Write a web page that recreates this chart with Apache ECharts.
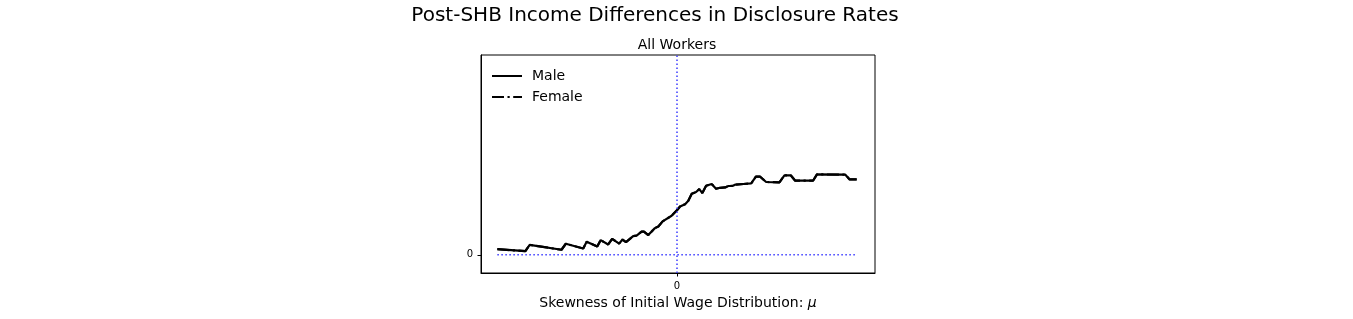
<!DOCTYPE html>
<html>
<head>
<meta charset="utf-8">
<script src="https://cdn.jsdelivr.net/npm/echarts@6/dist/echarts.min.js"></script>
<style>
html,body{margin:0;padding:0;background:#fff;}
#chart{width:1353px;height:319px;}
</style>
</head>
<body>
<div id="chart"></div>
<script>
// Skewness of initial wage distribution (mu), normalised so data spans -1..1
const muValues = [-1.00,-0.844,-0.820,-0.643,-0.619,-0.522,-0.503,-0.444,-0.425,-0.383,-0.361,-0.322,-0.303,-0.284,-0.244,-0.225,-0.197,-0.184,-0.160,-0.123,-0.104,-0.080,-0.030,0.002,0.017,0.045,0.063,0.082,0.106,0.124,0.141,0.162,0.193,0.217,0.240,0.268,0.286,0.311,0.323,0.370,0.413,0.439,0.463,0.496,0.570,0.598,0.634,0.658,0.757,0.779,0.937,0.961,1.00];
const maleValues = [0.031,0.020,0.055,0.028,0.061,0.035,0.072,0.046,0.081,0.057,0.088,0.062,0.084,0.070,0.103,0.106,0.128,0.128,0.109,0.147,0.156,0.184,0.215,0.248,0.266,0.279,0.298,0.336,0.346,0.362,0.340,0.380,0.390,0.364,0.369,0.371,0.379,0.380,0.386,0.390,0.393,0.430,0.430,0.401,0.399,0.437,0.437,0.408,0.408,0.443,0.441,0.415,0.415];
// Female line lies exactly under the male line (not visible separately)
const femaleValues = maleValues.slice();
const seriesNames = ['Male','Female'];
const zeroLineX = [-1.00, 1.00];
const titleText = 'Post-SHB Income Differences in Disclosure Rates';
const subtitleText = 'All Workers';
const xLabelText = 'Skewness of Initial Wage Distribution: ';

const malePairs = muValues.map((x,i)=>[x,maleValues[i]]);
const femalePairs = muValues.map((x,i)=>[x,femaleValues[i]]);
const zeroPairs = zeroLineX.map(x=>[x,0]);

const chart = echarts.init(document.getElementById('chart'), null, {renderer:'canvas'});
const FONT = 'DejaVu Sans';
const BLUE = '#3b3bff';
chart.setOption({
  animation:false,
  backgroundColor:'#fff',
  textStyle:{fontFamily:FONT},
  graphic:[
    {type:'text', x:655, y:16, style:{text:titleText, font:'20px "DejaVu Sans"', fill:'#000', textAlign:'center', textVerticalAlign:'middle'}},
    {type:'text', x:677, y:45, style:{text:subtitleText, font:'14px "DejaVu Sans"', fill:'#000', textAlign:'center', textVerticalAlign:'middle'}},
    {type:'text', x:678, y:303, style:{
      text:'{a|'+xLabelText+'}{i|μ}', textAlign:'center', textVerticalAlign:'middle',
      rich:{a:{fontFamily:FONT,fontSize:14,fill:'#000',color:'#000'}, i:{fontFamily:FONT,fontSize:14,fontStyle:'italic',color:'#000',fill:'#000'}}
    }}
  ],
  legend:{
    orient:'vertical', left:486, top:64, itemWidth:30, itemHeight:14, itemGap:7,
    data:seriesNames,
    itemStyle:{color:'rgba(0,0,0,0)', borderWidth:0, opacity:0},
    textStyle:{fontFamily:FONT, fontSize:14, color:'#000', padding:[0,0,0,5]}
  },
  grid:{left:481, right:478, top:55, bottom:46, show:true, borderColor:'#000', borderWidth:1, containLabel:false},
  xAxis:{
    type:'value', min:-1.091, max:1.102,
    axisLine:{show:true, onZero:false, lineStyle:{color:'#000', width:1}},
    axisTick:{show:true, length:3.5, lineStyle:{color:'#000'}, customValues:[0]},
    axisLabel:{show:true, customValues:[0], fontFamily:FONT, fontSize:10, color:'#000', margin:8},
    splitLine:{show:false}
  },
  yAxis:{
    type:'value', min:-0.1, max:1.1,
    axisLine:{show:true, onZero:false, lineStyle:{color:'#000', width:1}},
    axisTick:{show:true, length:3.5, lineStyle:{color:'#000'}, customValues:[0]},
    axisLabel:{show:true, customValues:[0], fontFamily:FONT, fontSize:10, color:'#000', margin:8},
    splitLine:{show:false}
  },
  series:[
    {name:'Female', type:'line', data:femalePairs, symbol:'none', z:2,
     lineStyle:{color:'#000', width:2.2, type:[12,3.5,2.2,3.5]}, itemStyle:{color:'#000'}},
    {name:'Male', type:'line', data:malePairs, symbol:'none', z:3,
     lineStyle:{color:'#000', width:2.2, type:'solid'}, itemStyle:{color:'#000'},
     markLine:{symbol:'none', silent:true, label:{show:false},
       lineStyle:{color:BLUE, width:1.5, type:[1.5,2.5]},
       data:[{xAxis:0}]}},
    {name:'zero', type:'line', data:zeroPairs, symbol:'none', z:1, silent:true,
     lineStyle:{color:BLUE, width:1.5, type:[1.5,2.5]}}
  ]
});
</script>
</body>
</html>
